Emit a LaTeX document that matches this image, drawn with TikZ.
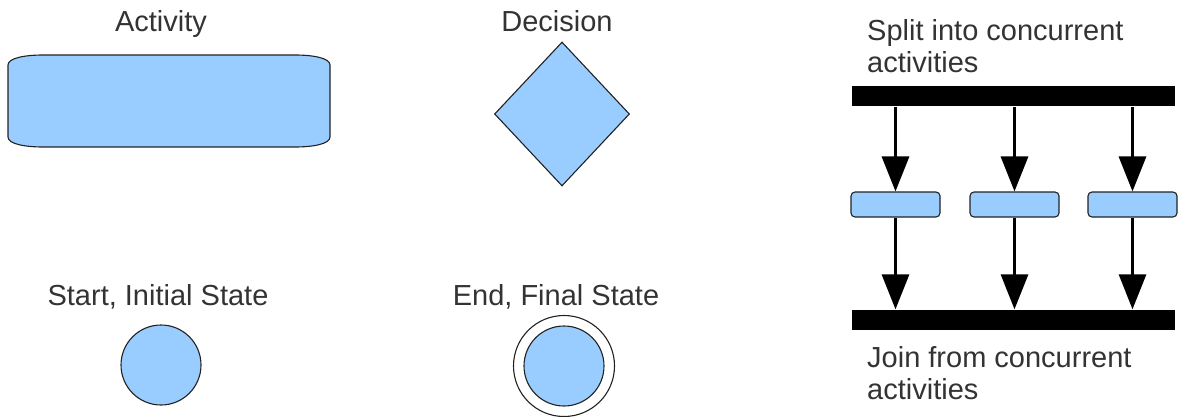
\documentclass[tikz,border=0pt]{standalone}
\usepackage{fontspec}
\setmainfont{Liberation Sans}
\usetikzlibrary{arrows.meta,shapes.geometric}
\definecolor{fillblue}{HTML}{99CCFF}
\definecolor{txtgray}{HTML}{333333}
\definecolor{edgegray}{HTML}{222222}
\tikzset{
  lbl/.style={text=txtgray,font=\fontsize{29}{32}\selectfont,inner sep=0pt},
  shapebox/.style={draw=edgegray,fill=fillblue,line width=1.1pt},
  bar/.style={fill=black,draw=none,rectangle,inner sep=0pt,minimum width=323pt,minimum height=20pt},
  smallbox/.style={shapebox,rectangle,rounded corners=4pt,inner sep=0pt,minimum width=89pt,minimum height=25pt},
  arr/.style={line width=3.2pt,-{Triangle[length=35pt,width=27pt]}}
}
\begin{document}
\begin{tikzpicture}[x=1pt,y=-1pt]
\useasboundingbox (0,0) rectangle (1178,417);
% labels
\node[lbl,anchor=base] (tAct) at (161,32) {Activity};
\node[lbl,anchor=base] (tDec) at (557,32) {Decision};
\node[lbl,anchor=base] (tStart) at (158,305) {Start, Initial State};
\node[lbl,anchor=base] (tEnd) at (556,305) {End, Final State};
\node[lbl,anchor=base west,align=left] (tSplit) at (867,73) {Split into concurrent\\activities};
\node[lbl,anchor=base west,align=left] (tJoin) at (867,399) {Join from concurrent\\activities};
% activity shape
\path[shapebox] (8,65) .. controls (8,58) and (25,55) .. (43,55)
  -- (295,55) .. controls (313,55) and (330,58) .. (330,65)
  -- (330,137) .. controls (330,144) and (313,147) .. (295,147)
  -- (43,147) .. controls (25,147) and (8,144) .. (8,137) -- cycle;
% decision
\node[shapebox,diamond,inner sep=0pt,minimum width=135pt,minimum height=144pt] (dec) at (562,114) {};
% start
\node[shapebox,circle,inner sep=0pt,minimum size=80pt] (start) at (161,365) {};
% end
\node[draw=edgegray,line width=1.1pt,circle,inner sep=0pt,minimum size=101pt] (endo) at (564,366) {};
\node[shapebox,circle,inner sep=0pt,minimum size=80pt] (endi) at (564,366) {};
% fork / join
\node[bar] (split) at (1013.5,96.5) {};
\node[bar] (join) at (1013.5,319.5) {};
\node[smallbox] (b1) at (895.5,204.5) {};
\node[smallbox] (b2) at (1014.5,204.5) {};
\node[smallbox] (b3) at (1132.5,204.5) {};
\foreach \b in {b1,b2,b3}{
  \draw[arr] (split.south -| \b) -- (\b.north);
  \draw[arr] (\b.south) -- (join.north -| \b);
}
\end{tikzpicture}
\end{document}
